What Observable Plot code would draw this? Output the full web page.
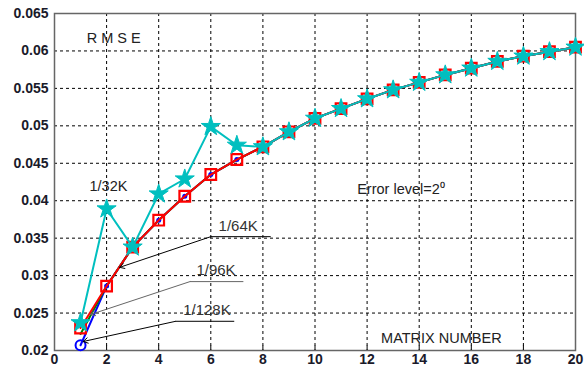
<!DOCTYPE html>
<html><head><meta charset="utf-8">
<script src="https://cdn.jsdelivr.net/npm/d3@7"></script>
<script src="https://cdn.jsdelivr.net/npm/@observablehq/plot@0.6"></script>
<style>
body{margin:0;background:#fff;}
#chart svg{display:block;}
</style>
</head><body><div id="chart"></div>
<script>
const matrixNumber = [1,2,3,4,5,6,7,8,9,10,11,12,13,14,15,16,17,18,19,20];
const rmse64 = [0.0230,0.0286,0.0338,0.0374,0.0406,0.0435,0.0455,0.0472,0.0492,0.0510,0.0523,0.0536,0.0548,0.0558,0.0568,0.0577,0.0586,0.0593,0.0599,0.0605];
const rmse32 = [0.0237,0.0389,0.0338,0.0409,0.0429,0.0499,0.0474,0.0472,0.0492,0.0510,0.0523,0.0536,0.0548,0.0558,0.0568,0.0577,0.0586,0.0593,0.0599,0.0605];
const rmse96 = [0.0222,0.0286,0.0338,0.0374,0.0406,0.0435,0.0455,0.0472,0.0492,0.0510,0.0523,0.0536,0.0548,0.0558,0.0568,0.0577,0.0586,0.0593,0.0599,0.0605];
const rmse128 = [0.0207,0.0286,0.0338,0.0374,0.0406,0.0435,0.0455,0.0472,0.0492,0.0510,0.0523,0.0536,0.0548,0.0558,0.0568,0.0577,0.0586,0.0593,0.0599,0.0605];
const xTicks = [0,2,4,6,8,10,12,14,16,18,20];
const yTicks = [0.02,0.025,0.03,0.035,0.04,0.045,0.05,0.055,0.06,0.065];
const yTickLabels = ["0.02","0.025","0.03","0.035","0.04","0.045","0.05","0.055","0.06","0.065"];

// annotation callouts (data coordinates)
const callouts = [
  {label:"1/64K",  hx1:6.0, hx2:8.3, hy:0.0352, ax:2.5, ay:0.0311, tx:7.05, ty:0.0366, color:"#000"},
  {label:"1/96K",  hx1:5.2, hx2:7.25, hy:0.0292, ax:1.38, ay:0.0248, tx:6.2, ty:0.0307, color:"#666"},
  {label:"1/128K", hx1:4.65, hx2:6.9, hy:0.0239, ax:1.1, ay:0.0212, tx:5.85, ty:0.0254, color:"#000"}
];
const labels = [
  {text:"R M S E", x:2.27, y:0.0617, anchor:"middle"},
  {text:"1/32K", x:2.07, y:0.0419, anchor:"middle"},
  {text:"Error level=2⁰", x:13.3, y:0.0415, anchor:"start"},
  {text:"MATRIX NUMBER", x:14.85, y:0.0216, anchor:"middle"}
];

const mk = (ys) => matrixNumber.map((x,i)=>({x, y: ys[i]}));
const d64 = mk(rmse64), d32 = mk(rmse32), d96 = mk(rmse96), d128 = mk(rmse128);

const chart = Plot.plot({
  width: 584, height: 371,
  marginLeft: 54, marginRight: 9, marginTop: 13, marginBottom: 21,
  style: {fontFamily: "Liberation Sans, Arial, sans-serif", fontSize: "14px", color: "#1a1a2a", background: "#fff", fontWeight: "bold"},
  x: {domain: [0,20], ticks: xTicks, label: null, tickSize: 0, tickPadding: 4},
  y: {domain: [0.02,0.065], ticks: yTicks, tickFormat: (d)=> yTickLabels[yTicks.findIndex(t=>Math.abs(t-d)<1e-9)], label: null, tickSize: 0, tickPadding: 6},
  marks: [
    Plot.gridX(xTicks, {stroke: "#000", strokeOpacity: 1, strokeDasharray: "3,3"}),
    Plot.gridY(yTicks, {stroke: "#000", strokeOpacity: 1, strokeDasharray: "3,3"}),
    Plot.ruleX(xTicks, {x: d=>d, y1: 0.02, y2: 0.0206, stroke:"#000"}),
    Plot.frame({stroke: "#666", strokeWidth: 1.5}),
    Plot.line(d128, {x:"x", y:"y", stroke:"#0000ff", strokeWidth: 2}),
    Plot.line(d96, {x:"x", y:"y", stroke:"#008000", strokeWidth: 2}),
    Plot.dot(d128.slice(1), {x:"x", y:"y", r: 2.5, fill:"#0000ff", stroke:"none"}),
    Plot.dot(d128.slice(0,1), {x:"x", y:"y", r: 5, stroke:"#0000ff", strokeWidth: 2, fill:"none"}),
    Plot.line(d64, {x:"x", y:"y", stroke:"#ff0000", strokeWidth: 2}),
    Plot.dot(d64, {x:"x", y:"y", symbol:"square", r: 6, stroke:"#ff0000", strokeWidth: 2.2, fill:"none"}),
    Plot.line(d32, {x:"x", y:"y", stroke:"#00bfbf", strokeWidth: 2}),
    Plot.dot(d32, {x:"x", y:"y", symbol:"star", r: 6, fill:"#00bfbf", stroke:"#00bfbf", strokeWidth: 1}),
    Plot.link(callouts, {x1:"hx1", x2:"hx2", y1:"hy", y2:"hy", stroke:"color", strokeWidth: 1}),
    Plot.arrow(callouts, {x1:"hx1", y1:"hy", x2:"ax", y2:"ay", stroke:"color", strokeWidth: 1, headLength: 8, bend: false}),
    Plot.text(callouts, {x:"tx", y:"ty", text:"label", fill:"#333", fontSize: 15, fontWeight: "normal"}),
    Plot.text(labels, {x:"x", y:"y", text:"text", textAnchor:"anchor", fill:"#222", fontSize: 14.5, fontWeight: "normal"})
  ]
});
document.getElementById("chart").appendChild(chart);
</script>
</body></html>
